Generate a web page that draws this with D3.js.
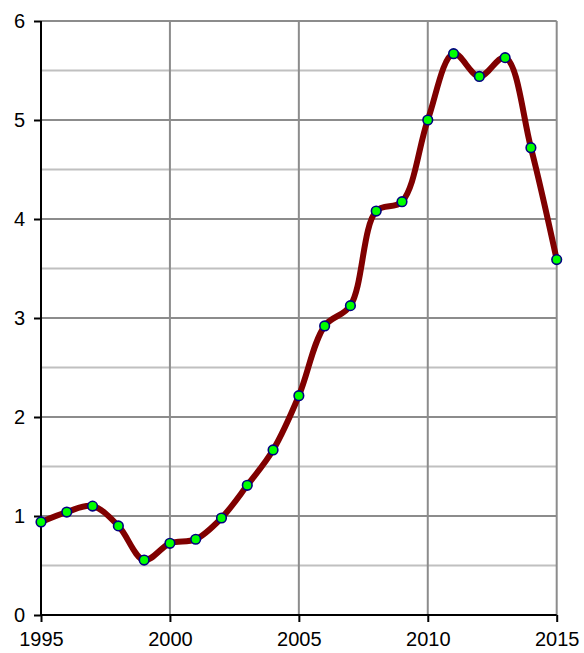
<!DOCTYPE html>
<html>
<head>
<meta charset="utf-8">
<script src="https://cdn.jsdelivr.net/npm/d3@7"></script>
<style>
  html, body { margin: 0; padding: 0; background: #fff; }
  svg { display: block; font-family: "Liberation Sans", Arial, sans-serif; }
</style>
</head>
<body>
<svg id="chart" width="584" height="653"></svg>
<script>
// Yearly values
const years = [1995, 1996, 1997, 1998, 1999, 2000, 2001, 2002, 2003, 2004, 2005,
               2006, 2007, 2008, 2009, 2010, 2011, 2012, 2013, 2014, 2015];
const values = [0.94, 1.04, 1.10, 0.90, 0.555, 0.724, 0.765, 0.98, 1.31, 1.667, 2.215,
                2.92, 3.125, 4.08, 4.175, 5.0, 5.67, 5.44, 5.63, 4.72, 3.59];
const xTicks = [1995, 2000, 2005, 2010, 2015];
const yTicks = [0, 1, 2, 3, 4, 5, 6];
const yMinor = [0.5, 1.5, 2.5, 3.5, 4.5, 5.5];

const svg = d3.select("#chart");
const plotLeft = 41, plotRight = 556.7, plotTop = 21, plotBottom = 615;

const x = d3.scaleLinear().domain([1995, 2015]).range([plotLeft, plotRight]);
const y = d3.scaleLinear().domain([0, 6]).range([plotBottom, plotTop]);

// minor horizontal grid
svg.append("g").selectAll("line").data(yMinor).join("line")
  .attr("x1", plotLeft).attr("x2", plotRight)
  .attr("y1", d => y(d)).attr("y2", d => y(d))
  .attr("stroke", "#c0c0c0").attr("stroke-width", 2);

// major horizontal grid
svg.append("g").selectAll("line").data(yTicks.filter(d => d > 0)).join("line")
  .attr("x1", plotLeft).attr("x2", plotRight)
  .attr("y1", d => y(d)).attr("y2", d => y(d))
  .attr("stroke", "#8c8c8c").attr("stroke-width", 2);

// vertical grid
svg.append("g").selectAll("line").data(xTicks.filter(d => d > 1995)).join("line")
  .attr("x1", d => x(d)).attr("x2", d => x(d))
  .attr("y1", plotTop).attr("y2", plotBottom)
  .attr("stroke", "#8c8c8c").attr("stroke-width", 2);

// y axis
const yAxis = svg.append("g")
  .attr("transform", `translate(${plotLeft},0)`)
  .call(d3.axisLeft(y).tickValues(yTicks).tickSize(7).tickPadding(9).tickFormat(d3.format("d")));
yAxis.select(".domain").attr("stroke", "#000").attr("stroke-width", 2)
  .attr("d", `M0,${plotBottom}V${plotTop}`);
yAxis.selectAll(".tick line").attr("stroke", "#000").attr("stroke-width", 2);
yAxis.selectAll(".tick text").attr("font-size", 20).attr("fill", "#000")
  .attr("font-family", "'Liberation Sans', Arial, sans-serif");

// x axis
const xAxis = svg.append("g")
  .attr("transform", `translate(0,${plotBottom})`)
  .call(d3.axisBottom(x).tickValues(xTicks).tickSize(7).tickPadding(10).tickFormat(d3.format("d")));
xAxis.select(".domain").attr("stroke", "#000").attr("stroke-width", 2)
  .attr("d", `M${plotLeft},0H${plotRight}`);
xAxis.selectAll(".tick line").attr("stroke", "#000").attr("stroke-width", 2);
xAxis.selectAll(".tick text").attr("font-size", 20).attr("fill", "#000")
  .attr("font-family", "'Liberation Sans', Arial, sans-serif");

// data line
const pts = years.map((yr, i) => [yr, values[i]]);
svg.append("path")
  .datum(pts)
  .attr("fill", "none")
  .attr("stroke", "#800000")
  .attr("stroke-width", 6)
  .attr("stroke-linejoin", "round")
  .attr("stroke-linecap", "round")
  .attr("d", d3.line().x(d => x(d[0])).y(d => y(d[1])).curve(d3.curveCatmullRom.alpha(0.5)));

// markers
svg.append("g").selectAll("circle").data(pts).join("circle")
  .attr("cx", d => x(d[0])).attr("cy", d => y(d[1]))
  .attr("r", 4.8)
  .attr("fill", "#00ff00")
  .attr("stroke", "#000080")
  .attr("stroke-width", 1.6);
</script>
</body>
</html>
